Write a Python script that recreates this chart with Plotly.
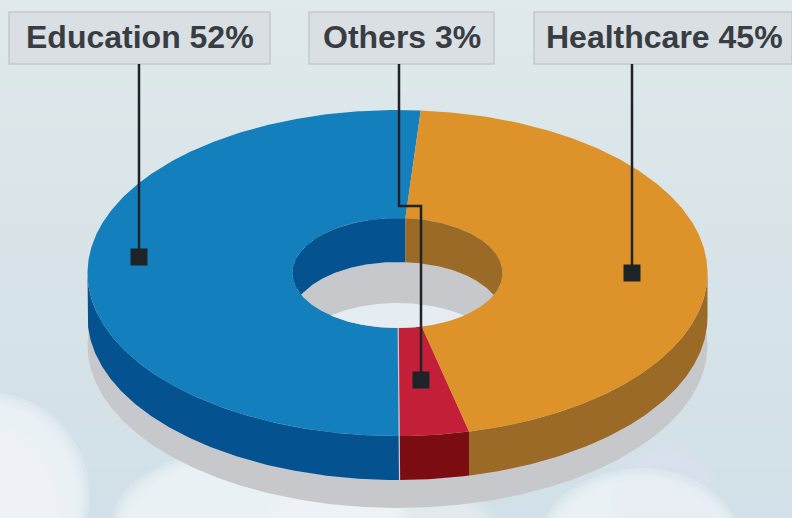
import numpy as np
import plotly.graph_objects as go

# ---- chart data -------------------------------------------------
categories = ["Education", "Others", "Healthcare"]
label_values = [52, 3, 45]
drawn_shares = [51.3, 3.6, 45.1]      # slice sizes
top_colors = ["#1380bd", "#c41f38", "#dd9329"]
side_colors = ["#04528f", "#7b0d12", "#9a6a26"]
wall_colors = ["#04528f", "#7b0d12", "#9a6a26"]

start_angle = 4.3
cx, cy = 397.5, 273
rx_out, ry_out = 310, 163
rx_in, ry_in = 105, 55
depth = 44
shadow_drop = 72
floor_drop = 85

label_boxes = [(9, 270), (309, 494), (534, 792)]
label_centers = [139.5, 401.5, 664]
leader_xs = [[139, 139], [399, 399, 421, 421], [632, 632]]
leader_ys = [[64, 257], [64, 206, 206, 380], [64, 273]]

W, H = 792, 518


def pt(theta, rx, ry, dy=0.0):
    t = np.radians(theta)
    return cx + rx * np.sin(t), cy + dy - ry * np.cos(t)


def ang(a, b):
    return np.linspace(a, b, max(int(abs(b - a) * 2), 2))


def poly(x, y, color, name):
    return go.Scatter(x=list(x), y=list(y), mode="lines", fill="toself", fillcolor=color,
                      line=dict(width=0, color=color), hoverinfo="skip", name=name, showlegend=False)


# ---- slices from the data ---------------------------------------
edges = [start_angle]
for s in drawn_shares:
    edges.append(edges[-1] - s / sum(drawn_shares) * 360)

fig = go.Figure()

# drop shadow under the ring
th = ang(0, 360)
sx, sy = pt(th, rx_out, ry_out, shadow_drop)
fig.add_trace(poly(sx, sy, "#c7c8cc", "shadow"))

# outer side walls (front half)
for i, c in enumerate(categories):
    hi, lo = edges[i], edges[i + 1]
    a, b = max(lo, -270), min(hi, -90)
    if a < b:
        t = ang(a, b)
        x1, y1 = pt(t, rx_out, ry_out)
        x2, y2 = pt(t[::-1], rx_out, ry_out, depth)
        fig.add_trace(poly(np.r_[x1, x2], np.r_[y1, y2], side_colors[i], c + " side"))

# top faces
for i, c in enumerate(categories):
    t = ang(edges[i + 1], edges[i])
    x1, y1 = pt(t, rx_out, ry_out)
    x2, y2 = pt(t[::-1], rx_in, ry_in)
    fig.add_trace(poly(np.r_[x1, x2], np.r_[y1, y2], top_colors[i], c))

# floor seen through the hole
t = ang(-90, 90)
xf, yf_top = pt(t, rx_in, ry_in, floor_drop)
_, y_low = pt(t + 180, rx_in, ry_in)
mask = yf_top < y_low
fig.add_trace(poly(np.r_[xf[mask], xf[mask][::-1]], np.r_[yf_top[mask], y_low[mask][::-1]], "#e6edf2", "floor"))

# inner walls (back half of the hole)
for i, c in enumerate(categories):
    hi, lo = edges[i], edges[i + 1]
    for a, b in [(max(lo, -90), min(hi, 90)), (max(lo, -450), min(hi, -270))]:
        if a < b:
            t = ang(a, b)
            x1, y1 = pt(t, rx_in, ry_in)
            _, y2a = pt(t, rx_in, ry_in, depth)
            _, y2b = pt(t + 180, rx_in, ry_in)
            y2 = np.minimum(y2a, y2b)
            fig.add_trace(poly(np.r_[x1, x1[::-1]], np.r_[y1, y2[::-1]], wall_colors[i], c + " wall"))

# light seam between Education and Others on the front
xs1, ys1 = pt(edges[1], rx_in, ry_in)
xs2, ys2 = pt(edges[1], rx_out, ry_out)
xs3, ys3 = pt(edges[1], rx_out, ry_out, depth)
fig.add_trace(go.Scatter(x=[xs1, xs2, xs3], y=[ys1, ys2, ys3], mode="lines",
                         line=dict(color="#d9c9cf", width=1.2), hoverinfo="skip", showlegend=False))

# leaders
for xs, ys, c in zip(leader_xs, leader_ys, categories):
    fig.add_trace(go.Scatter(x=xs, y=ys, mode="lines", line=dict(color="#1e2328", width=2.5),
                             hoverinfo="skip", showlegend=False, name=c + " leader"))
    fig.add_trace(go.Scatter(x=[xs[-1]], y=[ys[-1]], mode="markers",
                             marker=dict(symbol="square", size=17, color="#1e2328", line=dict(width=0)),
                             hoverinfo="skip", showlegend=False, name=c + " anchor"))

# ---- background --------------------------------------------------
shapes = []
n = 40
top_c, mid_c, bot_c = np.array([224, 234, 237]), np.array([216, 228, 232]), np.array([210, 225, 233])
for k in range(n):
    f = k / (n - 1)
    col = top_c + (mid_c - top_c) * min(f * 2, 1) + (bot_c - mid_c) * max(f * 2 - 1, 0)
    shapes.append(dict(type="rect", xref="x", yref="y", x0=0, x1=W, y0=k * H / n, y1=(k + 1) * H / n + 1,
                       fillcolor="rgb(%d,%d,%d)" % tuple(col), line_width=0, layer="below"))

# soft clouds: each lump is a stack of faint, shrinking ellipses
cloud_lumps = [(-115, 392, 90, 600), (-90, 420, 70, 600), (112, 445, 410, 600),
               (250, 470, 500, 600), (535, 468, 745, 640), (610, 440, 720, 560)]
cloud_weights = [1.0, 0.5, 1.0, 0.5, 1.0, 0.25]
for (x0, y0, x1, y1), wgt in zip(cloud_lumps, cloud_weights):
    for g in range(5):
        pad = g * 3
        shapes.append(dict(type="circle", xref="x", yref="y", x0=x0 + pad, x1=x1 - pad, y0=y0 + pad, y1=y1,
                           fillcolor="#f4f6fa", opacity=0.24 * wgt, line_width=0, layer="below"))

annotations = []
for (x0, x1), xc, c, v in zip(label_boxes, label_centers, categories, label_values):
    shapes.append(dict(type="rect", xref="x", yref="y", x0=x0, x1=x1, y0=12, y1=64,
                       fillcolor="#dadfe3", line=dict(color="#c4c9ce", width=1.5), layer="below"))
    annotations.append(dict(x=xc, y=37, xref="x", yref="y", text="%s %d%%" % (c, v), showarrow=False,
                            font=dict(family="Liberation Sans", size=32, color="#383d43", weight="bold"),
                            xanchor="center", yanchor="middle"))

fig.update_layout(
    width=W, height=H, margin=dict(l=0, r=0, t=0, b=0), showlegend=False,
    paper_bgcolor="#dbe6eb", plot_bgcolor="#dbe6eb",
    xaxis=dict(range=[0, W], visible=False, fixedrange=True),
    yaxis=dict(range=[H, 0], visible=False, fixedrange=True),
    shapes=shapes, annotations=annotations,
)
fig.write_html("out.html", config={"displayModeBar": False},
               post_script="document.body.style.margin='0';document.documentElement.style.overflow='hidden';")
